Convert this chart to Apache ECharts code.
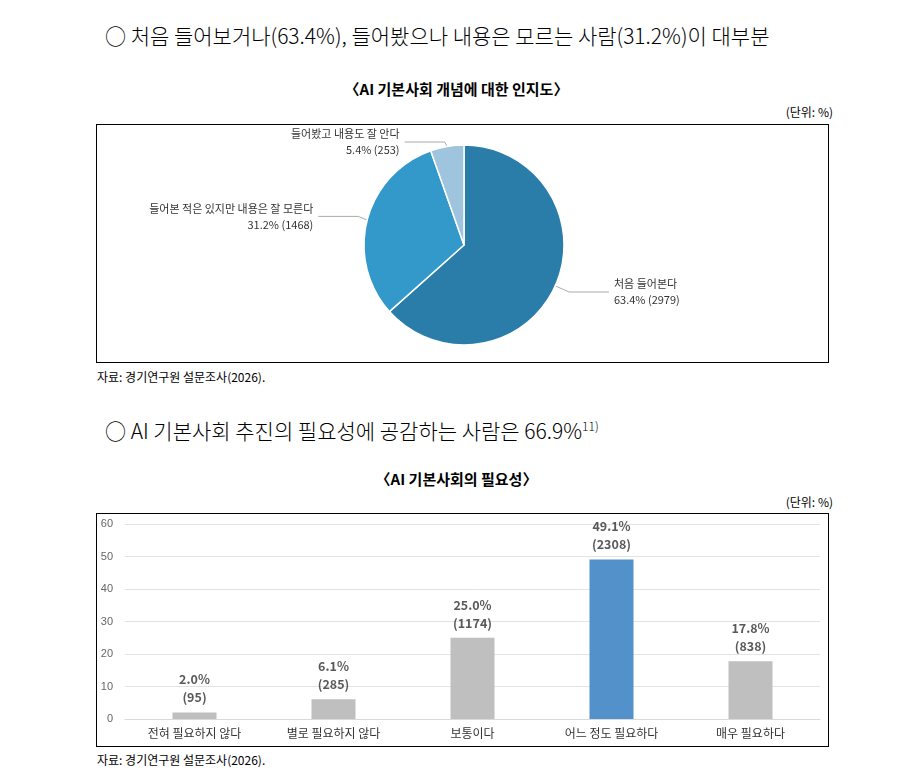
<!DOCTYPE html>
<html><head><meta charset="utf-8">
<script src="https://cdn.jsdelivr.net/npm/echarts@6/dist/echarts.min.js"></script>
<style>
body{margin:0;width:913px;height:781px;background:#fff;font-family:"Noto Sans CJK KR","Noto Sans",sans-serif;position:relative;color:#000}
.a{position:absolute;white-space:nowrap}
.h{font-size:21px;font-family:"Noto Sans CJK KR";font-weight:300}
.t{font-size:15px;font-weight:bold;width:913px;text-align:center;left:0}
.u{font-size:12px;right:80px}
.s{font-size:12px;left:97px}
.box{position:absolute;left:96px;width:733px;border:1px solid #000;box-sizing:border-box}
</style></head><body>
<div class="a h" style="left:105px;top:20px">○ 처음 들어보거나(63.4%), 들어봤으나 내용은 모르는 사람(31.2%)이 대부분</div>
<div class="a t" style="top:78px">〈AI 기본사회 개념에 대한 인지도〉</div>
<div class="a u" style="top:103px">(단위: %)</div>
<div class="box" id="c1" style="top:124px;height:239px"></div>
<div class="a s" style="top:368px">자료: 경기연구원 설문조사(2026).</div>
<div class="a h" style="left:105px;top:415px">○ AI 기본사회 추진의 필요성에 공감하는 사람은 66.9%<sup style="font-size:12px">11)</sup></div>
<div class="a t" style="top:468px">〈AI 기본사회의 필요성〉</div>
<div class="a u" style="top:493px">(단위: %)</div>
<div class="box" id="c2" style="top:513px;height:234px"></div>
<div class="a s" style="top:751px">자료: 경기연구원 설문조사(2026).</div>
<script>
const pieNames=['처음 들어본다','들어본 적은 있지만 내용은 잘 모른다','들어봤고 내용도 잘 안다'];
const pieValues=[63.4,31.2,5.4];
const pieCounts=[2979,1468,253];
const barCats=['전혀 필요하지 않다','별로 필요하지 않다','보통이다','어느 정도 필요하다','매우 필요하다'];
const barValues=[2.0,6.1,25.0,49.1,17.8];
const barCounts=[95,285,1174,2308,838];
const f='"Noto Sans CJK KR","Noto Sans",sans-serif';
const c1=echarts.init(document.getElementById('c1'));
c1.setOption({animation:false,series:[{type:'pie',center:[367,120],radius:[0,100],startAngle:90,clockwise:true,
 label:{fontSize:11,fontFamily:f,color:'#333',lineHeight:16,align:'center',formatter:p=>p.name+'\n'+p.value.toFixed(1)+'% ('+pieCounts[p.dataIndex]+')'},
 labelLine:{length:15,length2:40,lineStyle:{color:'#aaa'}},
 itemStyle:{borderColor:'#fff',borderWidth:1.5},
 data:pieNames.map((n,i)=>({name:n,value:pieValues[i],itemStyle:{color:['#2b7da9','#3399cb','#9fc5de'][i]}}))}]});
const c2=echarts.init(document.getElementById('c2'));
c2.setOption({animation:false,grid:{left:28,right:8,top:10,bottom:27},
 xAxis:{type:'category',data:barCats,axisTick:{show:false},axisLine:{lineStyle:{color:'#d9d9d9'}},axisLabel:{fontSize:12,fontFamily:f,color:'#333',margin:8}},
 yAxis:{min:0,max:60,interval:10,axisLabel:{fontSize:11,color:'#666',margin:12},splitLine:{lineStyle:{color:'#e3e3e3'}}},
 series:[{type:'bar',barWidth:44,data:barValues.map((v,i)=>({value:v,itemStyle:{color:i==3?'#5391ca':'#bfbfbf'}})),
 label:{show:true,position:'top',fontSize:12.5,fontWeight:'bold',color:'#595959',lineHeight:18,distance:6,fontFamily:f,
 formatter:p=>p.value.toFixed(1)+'%\n('+barCounts[p.dataIndex]+')'}}]});
</script></body></html>
